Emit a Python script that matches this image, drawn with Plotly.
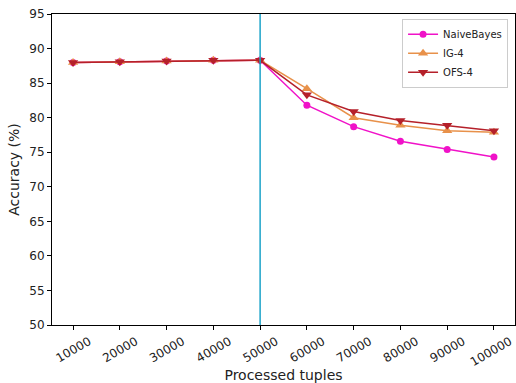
import plotly.graph_objects as go

x = [10000, 20000, 30000, 40000, 50000, 60000, 70000, 80000, 90000, 100000]
naive_bayes = [88.0, 88.1, 88.2, 88.3, 88.3, 81.8, 78.7, 76.6, 75.4, 74.3]
ig4 = [88.0, 88.1, 88.2, 88.3, 88.3, 84.2, 80.0, 78.9, 78.1, 77.9]
ofs4 = [88.0, 88.1, 88.2, 88.3, 88.3, 83.3, 80.9, 79.6, 78.9, 78.1]
split_x = 50000
yticks = [50, 55, 60, 65, 70, 75, 80, 85, 90, 95]

fig = go.Figure()
fig.add_trace(go.Scatter(x=x, y=naive_bayes, name="NaiveBayes", mode="lines+markers",
                         line=dict(color="#f012c8", width=1.5),
                         marker=dict(symbol="circle", size=7, color="#f012c8")))
fig.add_trace(go.Scatter(x=x, y=ig4, name="IG-4", mode="lines+markers",
                         line=dict(color="#e8914a", width=1.5),
                         marker=dict(symbol="triangle-up", size=9, color="#e8914a")))
fig.add_trace(go.Scatter(x=x, y=ofs4, name="OFS-4", mode="lines+markers",
                         line=dict(color="#b5202a", width=1.5),
                         marker=dict(symbol="triangle-down", size=9, color="#b5202a")))
fig.add_vline(x=split_x, line=dict(color="#1ca3c9", width=1.5))

fig.update_layout(
    width=516, height=383,
    margin=dict(l=52, r=1, t=14, b=58),
    paper_bgcolor="white", plot_bgcolor="white",
    font=dict(family="DejaVu Sans", size=12, color="#222"),
    legend=dict(x=0.985, y=0.985, xanchor="right", yanchor="top",
                bgcolor="rgba(255,255,255,0.8)", bordercolor="#ccc", borderwidth=1,
                font=dict(size=10), tracegroupgap=0, itemwidth=30),
    showlegend=True,
)
fig.update_xaxes(range=[5500, 104500], tickvals=x, ticktext=[str(v) for v in x],
                 tickangle=-30, ticklabelshift=16, ticklabeloverflow="allow",
                 showgrid=False, zeroline=False,
                 showline=True, linecolor="black", linewidth=1, mirror=True,
                 ticks="outside", ticklen=4, tickcolor="black",
                 title=dict(text="Processed tuples", font=dict(size=14), standoff=4))
fig.update_yaxes(range=[50, 95], tickvals=yticks, showgrid=False, zeroline=False,
                 showline=True, linecolor="black", linewidth=1, mirror=True,
                 ticks="outside", ticklen=4, tickcolor="black",
                 title=dict(text="Accuracy (%)", font=dict(size=14), standoff=6))

fig.write_html("out.html")
